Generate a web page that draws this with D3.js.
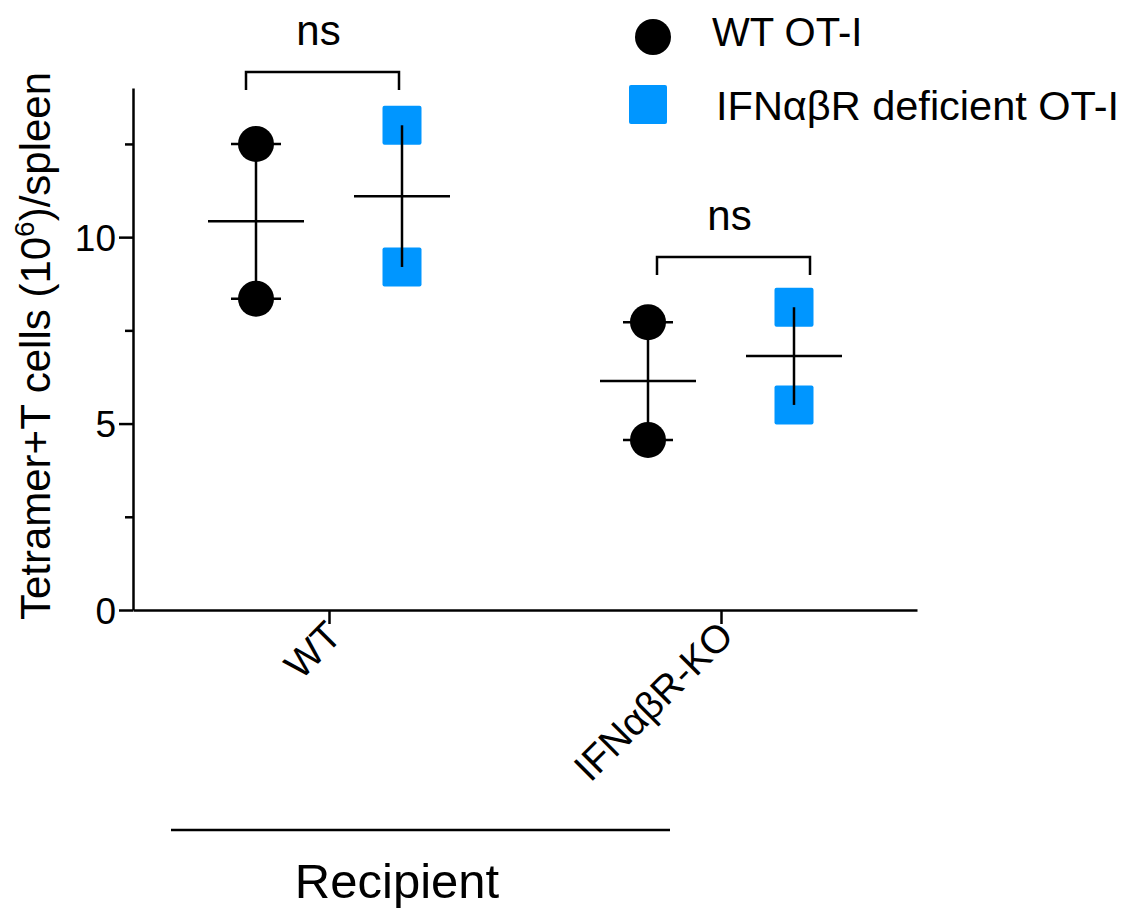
<!DOCTYPE html>
<html>
<head>
<meta charset="utf-8">
<script src="https://cdn.jsdelivr.net/npm/d3@7"></script>
<style>
  body { margin: 0; background: #fff; }
  text { font-family: "Liberation Sans", Arial, sans-serif; fill: #000; }
</style>
</head>
<body>
<svg width="1133" height="908"></svg>
<script>
// recipient groups on the x axis
var groups = ["WT", "IFNαβR-KO"];
// donor cell types (legend)
var seriesNames = ["WT OT-I", "IFNαβR deficient OT-I"];
// values per recipient group, 10^6 cells / spleen
var wtOT1 = [[12.5, 8.35], [7.72, 4.56]];
var koOT1 = [[13.0, 9.2], [8.12, 5.5]];
var majorTicks = [0, 5, 10];
var minorTicks = [2.5, 7.5, 12.5];
// significance labels and bracket heights (data units)
var sigLabels = ["ns", "ns"];
var bracketY = [14.43, 9.47];

var blue = "#0096ff";
var svg = d3.select("svg");

var y = d3.scaleLinear().domain([0, 14]).range([610, 88]);
var x = d3.scalePoint().domain(groups).range([133, 917]).padding(0.5);
var offset = 73; // distance from the group centre to each series

// axes
var yAxis = svg.append("g")
    .attr("transform", "translate(133,0)")
    .call(d3.axisLeft(y).tickValues(majorTicks).tickSize(14).tickSizeOuter(0).tickPadding(3));

svg.append("g")
    .attr("transform", "translate(133,0)")
    .call(d3.axisLeft(y).tickValues(minorTicks).tickSize(8).tickSizeOuter(0).tickFormat(""))
    .select(".domain").remove();

var xAxis = svg.append("g")
    .attr("transform", "translate(0,610)")
    .call(d3.axisBottom(x).tickSize(14).tickSizeOuter(0));

svg.selectAll(".domain, .tick line").attr("stroke", "#000").attr("stroke-width", 2.5);
yAxis.selectAll("text").style("font-size", "37px").attr("dy", "0.36em");

xAxis.selectAll("text")
    .style("font-size", "39px")
    .attr("text-anchor", "end")
    .attr("dy", 0)
    .attr("transform", "translate(2,16) rotate(-45)");

// axis title
var title = svg.append("text")
    .attr("transform", "translate(50,346) rotate(-90)")
    .attr("text-anchor", "middle")
    .style("font-size", "42px");
title.append("tspan").text("Tetramer+T cells (10");
title.append("tspan").attr("dy", -16).style("font-size", "28px").text("6");
title.append("tspan").attr("dy", 16).text(")/spleen");

// group label underline
svg.append("line")
    .attr("x1", 171).attr("x2", 670).attr("y1", 830).attr("y2", 830)
    .attr("stroke", "#000").attr("stroke-width", 2.5);
svg.append("text")
    .attr("x", 397).attr("y", 898)
    .attr("text-anchor", "middle")
    .style("font-size", "49px")
    .text("Recipient");

function stats(vals) {
    var m = d3.mean(vals);
    var sem = d3.deviation(vals) / Math.sqrt(vals.length);
    return { mean: m, lo: m - sem, hi: m + sem };
}

// WT OT-I: error bars under the circles
groups.forEach(function (g, i) {
    var cx = x(g) - offset;
    var s = stats(wtOT1[i]);
    var gg = svg.append("g").attr("stroke", "#000").attr("stroke-width", 2.5);
    gg.append("line").attr("x1", cx).attr("x2", cx).attr("y1", y(s.hi)).attr("y2", y(s.lo));
    gg.append("line").attr("x1", cx - 25).attr("x2", cx + 25).attr("y1", y(s.hi)).attr("y2", y(s.hi));
    gg.append("line").attr("x1", cx - 25).attr("x2", cx + 25).attr("y1", y(s.lo)).attr("y2", y(s.lo));
    gg.append("line").attr("x1", cx - 48).attr("x2", cx + 48).attr("y1", y(s.mean)).attr("y2", y(s.mean));
    svg.selectAll(null).data(wtOT1[i]).enter().append("circle")
        .attr("cx", cx).attr("cy", function (d) { return y(d); })
        .attr("r", 18).attr("fill", "#000");
});

// IFNαβR deficient OT-I: squares, bar drawn on top
groups.forEach(function (g, i) {
    var cx = x(g) + offset;
    var s = stats(koOT1[i]);
    svg.selectAll(null).data(koOT1[i]).enter().append("rect")
        .attr("x", cx - 19.5).attr("y", function (d) { return y(d) - 19.5; })
        .attr("width", 39).attr("height", 39).attr("rx", 2)
        .attr("fill", blue);
    var gg = svg.append("g").attr("stroke", "#000").attr("stroke-width", 2.5);
    gg.append("line").attr("x1", cx).attr("x2", cx).attr("y1", y(s.hi)).attr("y2", y(s.lo));
    gg.append("line").attr("x1", cx - 48).attr("x2", cx + 48).attr("y1", y(s.mean)).attr("y2", y(s.mean));
});

// significance brackets
var bracketShift = [-7, 12];
groups.forEach(function (g, i) {
    var x1 = x(g) - 76 + bracketShift[i], x2 = x(g) + 77 + bracketShift[i];
    var by = y(bracketY[i]);
    svg.append("path")
        .attr("d", "M" + x1 + "," + (by + 18) + "V" + by + "H" + x2 + "V" + (by + 18))
        .attr("fill", "none").attr("stroke", "#000").attr("stroke-width", 2.5);
    svg.append("text")
        .attr("x", (x1 + x2) / 2 - 4).attr("y", by - 27)
        .attr("text-anchor", "middle")
        .style("font-size", "42px")
        .text(sigLabels[i]);
});

// legend
var legend = svg.append("g");
legend.append("circle").attr("cx", 653).attr("cy", 37).attr("r", 18).attr("fill", "#000");
legend.append("rect").attr("x", 629).attr("y", 85).attr("width", 38).attr("height", 39).attr("rx", 2).attr("fill", blue);
legend.selectAll("text.lab").data(seriesNames).enter().append("text")
    .attr("class", "lab")
    .attr("x", function (d, i) { return i === 0 ? 712 : 716; })
    .attr("y", function (d, i) { return i === 0 ? 46 : 120; })
    .style("font-size", function (d, i) { return i === 0 ? "40px" : "41.5px"; })
    .text(function (d) { return d; });
</script>
</body>
</html>
